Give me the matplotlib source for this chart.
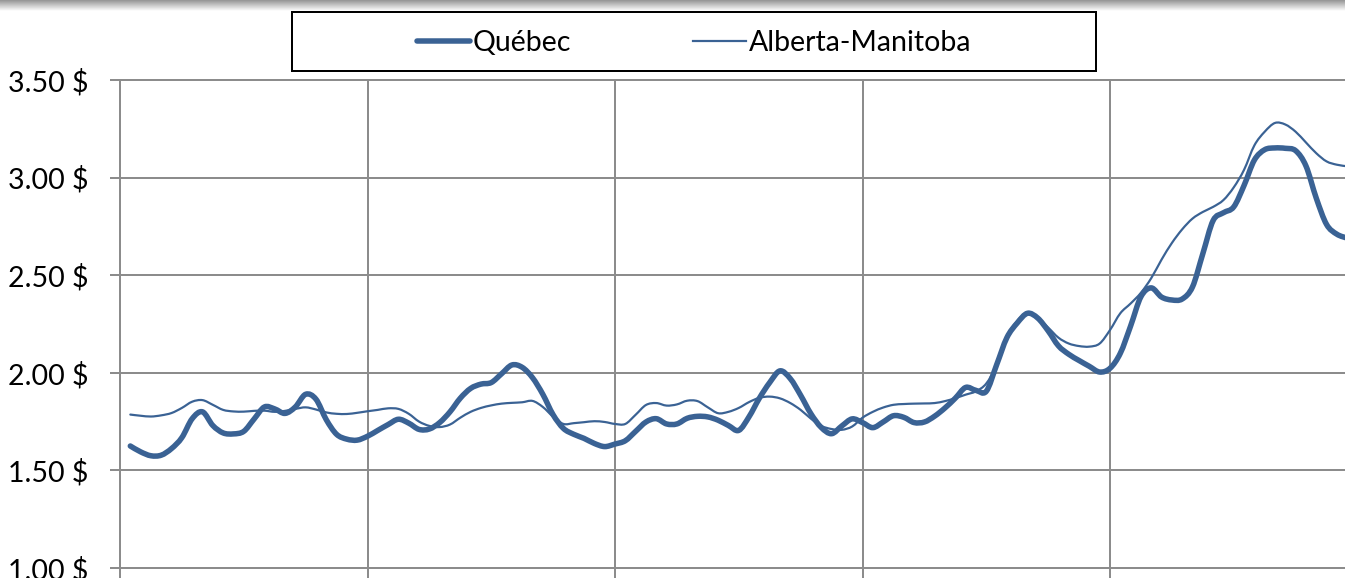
import numpy as np
import matplotlib
matplotlib.use("Agg")
import matplotlib.pyplot as plt
from matplotlib.patches import Rectangle, PathPatch
from matplotlib.path import Path
from matplotlib.lines import Line2D

# ---- data (half-month steps, 5 years shown) ----
quebec = [1.625, 1.595, 1.575, 1.578, 1.612, 1.668, 1.765, 1.80, 1.73, 1.692,
          1.687, 1.70, 1.763, 1.825, 1.815, 1.792, 1.825, 1.89, 1.865, 1.76,
          1.685, 1.66, 1.655, 1.675, 1.705, 1.735, 1.762, 1.742, 1.71, 1.712,
          1.745, 1.80, 1.87, 1.92, 1.942, 1.95, 1.995, 2.04, 2.028, 1.975,
          1.89, 1.785, 1.715, 1.685, 1.664, 1.638, 1.622, 1.635, 1.652, 1.70,
          1.748, 1.765, 1.738, 1.738, 1.767, 1.777, 1.774, 1.757, 1.73, 1.705,
          1.775, 1.87, 1.95, 2.01, 1.97, 1.885, 1.79, 1.72, 1.688, 1.728,
          1.764, 1.745, 1.719, 1.748, 1.78, 1.772, 1.745, 1.748, 1.778, 1.82,
          1.87, 1.925, 1.91, 1.905, 2.04, 2.18, 2.255, 2.305, 2.28, 2.215,
          2.138, 2.095, 2.063, 2.033, 2.004, 2.023, 2.10, 2.24, 2.39, 2.435,
          2.388, 2.373, 2.378, 2.44, 2.61, 2.78, 2.82, 2.85, 2.96, 3.09,
          3.143, 3.152, 3.15, 3.138, 3.06, 2.895, 2.76, 2.71, 2.69]

alberta = [1.786, 1.78, 1.776, 1.782, 1.794, 1.82, 1.852, 1.86, 1.836, 1.81,
           1.802, 1.801, 1.805, 1.806, 1.80, 1.805, 1.815, 1.823, 1.812, 1.797,
           1.79, 1.789, 1.795, 1.803, 1.81, 1.818, 1.815, 1.79, 1.75, 1.728,
           1.722, 1.735, 1.77, 1.80, 1.82, 1.833, 1.842, 1.846, 1.849, 1.856,
           1.825, 1.775, 1.738, 1.742, 1.747, 1.752, 1.748, 1.738, 1.738, 1.785,
           1.835, 1.845, 1.832, 1.838, 1.857, 1.855, 1.823, 1.793, 1.80, 1.82,
           1.85, 1.872, 1.878, 1.869, 1.845, 1.81, 1.765, 1.728, 1.712, 1.708,
           1.725, 1.77, 1.80, 1.822, 1.836, 1.84, 1.842, 1.843, 1.845, 1.855,
           1.87, 1.888, 1.905, 1.945, 2.04, 2.185, 2.265, 2.31, 2.28, 2.232,
           2.18, 2.15, 2.137, 2.134, 2.15, 2.219, 2.305, 2.355, 2.41, 2.485,
           2.58, 2.665, 2.735, 2.79, 2.824, 2.85, 2.885, 2.95, 3.04, 3.165,
           3.235, 3.28, 3.272, 3.235, 3.18, 3.125, 3.083, 3.066, 3.058]

series_names = ["Québec", "Alberta-Manitoba"]
y_ticks = [1.00, 1.50, 2.00, 2.50, 3.00, 3.50]
y_tick_labels = ["1.00 $", "1.50 $", "2.00 $", "2.50 $", "3.00 $", "3.50 $"]
year_bounds = [0, 12, 24, 36, 48, 60]

months = 0.5 + 0.5 * np.arange(len(quebec))

# ---- style ----
W, H = 1345, 578
DPI = 100
FONT = "Lato"
LINE_COLOR = "#3A6294"
GRID_COLOR = "#8C8C8C"
px = 72.0 / DPI  # points per pixel


def smooth_path(x, y):
    """Bezier path through the data points (like a spreadsheet's smoothed line)."""
    pts = np.column_stack([x, y]).astype(float)
    n = len(pts)
    verts = [pts[0]]
    codes = [Path.MOVETO]
    for i in range(n - 1):
        p0 = pts[i - 1] if i > 0 else pts[i]
        p1 = pts[i]
        p2 = pts[i + 1]
        p3 = pts[i + 2] if i + 2 < n else pts[i + 1]
        c1 = p1 + (p2 - p0) / 6.0
        c2 = p2 - (p3 - p1) / 6.0
        verts += [c1, c2, p2]
        codes += [Path.CURVE4] * 3
    return Path(verts, codes)


fig = plt.figure(figsize=(W / DPI, H / DPI), dpi=DPI)
fig.patch.set_facecolor("white")

# top shadow bar
shadow = fig.add_axes([0, 1 - 11 / H, 1, 11 / H])
grad = np.linspace(0.0, 1.0, 50).reshape(-1, 1)
shadow.imshow(grad, aspect="auto", cmap="gray", vmin=-1.4, vmax=1.0,
              extent=[0, 1, 0, 1], origin="upper")
shadow.axis("off")

# plot area
left, right_px = 120, 120 + 60 * 20.625
ax = fig.add_axes([left / W, (H - 568) / H, (right_px - left) / W, (568 - 80) / H])
ax.set_xlim(0, 60)
ax.set_ylim(1.0, 3.5)

for vals, lw, z in [(quebec, 5.5, 3), (alberta, 2.2, 4)]:
    patch = PathPatch(smooth_path(months, vals), facecolor="none",
                      edgecolor=LINE_COLOR, lw=lw * px, joinstyle="round",
                      capstyle="round", zorder=z, transform=ax.transData)
    ax.add_patch(patch)

ax.set_yticks(y_ticks)
ax.set_yticklabels(y_tick_labels, fontfamily=FONT, fontsize=20.5)
ax.set_xticks(year_bounds)
ax.set_xticklabels([])
ax.grid(True, color=GRID_COLOR, lw=2 * px)
ax.set_axisbelow(True)
ax.tick_params(axis="both", direction="out", length=10 * px, width=2 * px,
               color=GRID_COLOR, pad=22 * px)
for side in ["left", "bottom", "top"]:
    ax.spines[side].set_color(GRID_COLOR)
    ax.spines[side].set_linewidth(2 * px)
ax.spines["right"].set_visible(False)

# legend frame
fig.patches.append(Rectangle((292 / W, (H - 71) / H), (1096 - 292) / W, (71 - 12) / H,
                             transform=fig.transFigure, fill=False, edgecolor="black",
                             lw=2 * px, zorder=10))
handles = [Line2D([], [], color=LINE_COLOR, lw=5.5 * px, solid_capstyle="round"),
           Line2D([], [], color=LINE_COLOR, lw=2.2 * px)]
leg = fig.legend(handles, series_names, loc="center",
                 bbox_to_anchor=((292 + 1096) / 2 / W, 1 - 43 / H),
                 ncol=2, frameon=False, prop={"family": FONT, "size": 20.5},
                 handlelength=1.85, handletextpad=0.1, columnspacing=4.3)

fig.savefig("out.png", dpi=DPI, facecolor="white")
